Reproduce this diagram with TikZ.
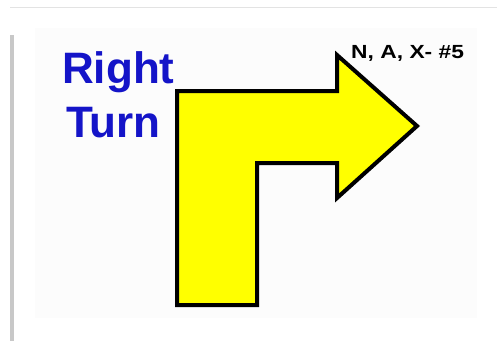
\documentclass[tikz,border=0pt]{standalone}
\usepackage{fontspec}
\setmainfont{Liberation Sans}
\usepackage{tikz}
\usetikzlibrary{positioning, calc}
\usepackage{xcolor}
\definecolor{signBlue}{HTML}{1414C8}
\definecolor{signYellow}{HTML}{FFFF00}
\definecolor{signShadow}{HTML}{C8C8C8}
\definecolor{signPanel}{HTML}{FCFCFC}

\begin{document}
\begin{tikzpicture}[x=1pt, y=-1pt, font=\bfseries,
    turnarrow/.style={fill=signYellow, draw=black, line width=4pt, line join=miter},
    titletext/.style={text=signBlue, font=\fontsize{44}{44}\selectfont\bfseries, inner sep=0pt, anchor=base west},
    codetext/.style={text=black, font=\fontsize{19}{19}\selectfont\bfseries, inner sep=0pt, anchor=base west, xscale=1.2}]
        % Marco y fondo
        \useasboundingbox (0,0) rectangle (497,341);
        \fill[white] (0,0) rectangle (497,341);
        \draw[signShadow!50, line width=0.8pt] (10,7) -- (497,7);
        \fill[signShadow] (10,35) rectangle (14,341);
        \fill[signPanel] (35,28) rectangle (477,318);
        % Flecha de giro
        \draw[turnarrow] (177,91) -- (337,91) -- (337,55) -- (417,126)
              -- (337,198) -- (337,163) -- (257,163) -- (257,305)
              -- (177,305) -- cycle;
        % Textos
        \node[titletext] (right) at (62,83) {Right};
        \node[titletext] (turn) at (66,137) {Turn};
        \node[codetext] (code) at (351,58) {N, A, X- \#5};
      \end{tikzpicture}
\end{document}
